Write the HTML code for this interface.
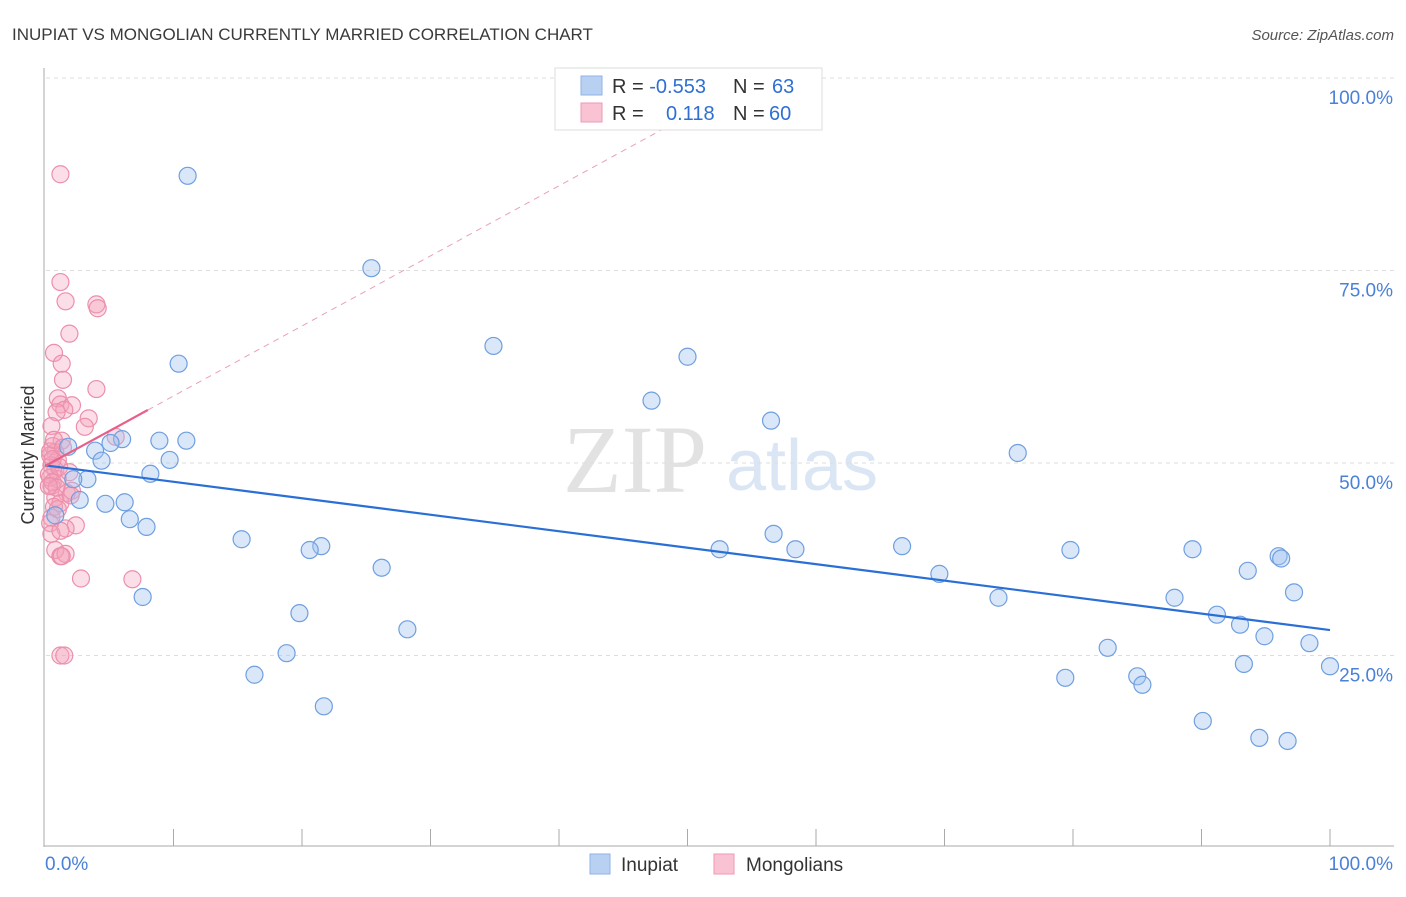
<!DOCTYPE html>
<html><head><meta charset="utf-8"><style>
body{margin:0;background:#fff;font-family:"Liberation Sans",sans-serif}
#wrap{position:relative;width:1406px;height:892px}
</style></head><body>
<div id="wrap">
<svg id="svg" width="1406" height="892" xmlns="http://www.w3.org/2000/svg">
<text x="12" y="40" font-size="17" fill="#3a3a3a">INUPIAT VS MONGOLIAN CURRENTLY MARRIED CORRELATION CHART</text>
<text x="1394" y="40" font-size="15" fill="#555" font-style="italic" text-anchor="end">Source: ZipAtlas.com</text>
<text x="635" y="492" font-size="96" fill="#e2e2e2" font-family="Liberation Serif" text-anchor="middle">ZIP</text>
<text x="802" y="490" font-size="72" fill="#dbe6f5" text-anchor="middle">atlas</text>
<text transform="translate(34,455) rotate(-90)" font-size="18" fill="#333" text-anchor="middle">Currently Married</text>
<g id="grid"></g><g id="marks"></g><g id="lines"></g>
<g>
<rect x="555" y="68" width="267" height="62" fill="#fff" stroke="#ddd"/>
<rect x="581" y="76" width="21" height="19" fill="#b8d1f3" stroke="#8fb2e6"/>
<rect x="581" y="103" width="21" height="19" fill="#f9c3d3" stroke="#ee9ab4"/>
<text x="612" y="93" font-size="20" fill="#333">R = <tspan fill="#2f6fd3">-0.553</tspan><tspan x="733">N = </tspan><tspan x="772" fill="#2f6fd3">63</tspan></text>
<text x="612" y="120" font-size="20" fill="#333">R = <tspan x="666" fill="#2f6fd3">0.118</tspan><tspan x="733">N = </tspan><tspan x="769" fill="#2f6fd3">60</tspan></text>
</g>
<g>
<rect x="590" y="854" width="20" height="20" fill="#b8d1f3" stroke="#8fb2e6"/>
<text x="621" y="871" font-size="19" fill="#333">Inupiat</text>
<rect x="714" y="854" width="20" height="20" fill="#f9c3d3" stroke="#ee9ab4"/>
<text x="746" y="871" font-size="19" fill="#333">Mongolians</text>
</g>
</svg>
</div>
<script>
const blueX=[11.1,25.4,34.9,50.0,10.4,47.2,56.5,6.0,8.9,11.0,5.1,1.8,3.9,75.7,9.7,4.4,8.2,3.3,2.2,2.7,6.2,4.7,0.8,6.6,7.9,15.3,56.7,21.5,20.6,52.5,58.4,66.7,79.8,89.3,96.0,96.2,26.2,93.6,69.6,97.2,7.6,74.2,87.9,19.8,91.2,28.2,93.0,94.9,98.4,82.7,18.8,93.3,100,16.3,79.4,85.0,85.4,21.7,90.1,94.5,96.7];
const blueY=[87.3,75.3,65.2,63.8,62.9,58.1,55.5,53.1,52.9,52.9,52.6,52.1,51.6,51.3,50.4,50.3,48.6,47.9,47.9,45.2,44.9,44.7,43.2,42.7,41.7,40.1,40.8,39.2,38.7,38.8,38.8,39.2,38.7,38.8,37.9,37.6,36.4,36.0,35.6,33.2,32.6,32.5,32.5,30.5,30.3,28.4,29.0,27.5,26.6,26.0,25.3,23.9,23.6,22.5,22.1,22.3,21.2,18.4,16.5,14.3,13.9];
const pinkX=[1.2,1.2,1.6,4.0,4.1,1.9,0.7,1.3,1.4,4.0,1.0,1.2,2.1,1.5,0.9,3.4,3.1,0.5,5.5,1.3,0.6,0.8,0.4,1.0,0.5,0.8,0.4,1.0,0.5,1.7,2.1,0.8,1.2,0.7,0.5,0.4,2.4,1.6,0.5,1.2,0.8,1.2,1.6,1.3,2.8,6.8,1.2,1.5,0.3,0.6,0.9,1.1,0.4,0.7,2.0,1.0,0.6,0.3,1.4,1.9];
const pinkY=[87.5,73.5,71.0,70.6,70.1,66.8,64.3,62.9,60.8,59.6,58.4,57.6,57.5,56.9,56.6,55.8,54.7,54.8,53.4,52.9,52.2,51.4,51.0,50.4,49.7,49.1,48.1,47.9,47.0,46.1,46.4,45.5,44.8,44.3,42.9,42.2,41.9,41.5,40.8,41.2,38.7,37.9,38.2,37.9,35.0,34.9,25.0,25.0,48.5,47.5,46.8,49.5,51.5,53.0,45.8,44.0,50.5,47.0,52.0,48.8];
const xTicks=["0.0%","100.0%"];
const yTickVals=[25,50,75,100];
const yTickLabels=["25.0%","50.0%","75.0%","100.0%"];
const blueTrend=[49.7,28.3];
const pinkTrend=[49.6,0.91];
const X=v=>45+v*12.85, Y=v=>848-v*7.7;
const NS="http://www.w3.org/2000/svg";
function mk(tag,attrs,parent){const e=document.createElementNS(NS,tag);for(const k in attrs)e.setAttribute(k,attrs[k]);parent.appendChild(e);return e;}
const grid=document.getElementById('grid'),marks=document.getElementById('marks'),lines=document.getElementById('lines');
let ax=mk('line',{x1:44,y1:68,x2:44,y2:847,stroke:'#aaa'},grid);


let bx=mk('line',{x1:44,y1:846,x2:1394,y2:846,stroke:'#aaa'},grid);


for(let i=1;i<=10;i++){let t=mk('line',{x1:X(i*10),y1:829,x2:X(i*10),y2:846,stroke:'#aaa'},grid);

}
yTickVals.forEach((v,i)=>{let g=mk('line',{x1:46,y1:Y(v),x2:1394,y2:Y(v),stroke:'#ddd','stroke-dasharray':'4,4'},grid);


let t=mk('text',{x:1393,y:Y(v)+26,'font-size':19,fill:'#4a80d8','text-anchor':'end'},grid);t.textContent=yTickLabels[i];

});
let t0=mk('text',{x:45,y:870,'font-size':19,fill:'#4a80d8'},grid);t0.textContent=xTicks[0];


let t1=mk('text',{x:1393,y:870,'font-size':19,fill:'#4a80d8','text-anchor':'end'},grid);t1.textContent=xTicks[1];


pinkX.forEach((x,i)=>{let c=mk('circle',{cx:X(x),cy:Y(pinkY[i]),r:8.5,fill:'rgba(244,160,186,0.35)',stroke:'#ec8fab','stroke-width':1.2},marks);

});
blueX.forEach((x,i)=>{let c=mk('circle',{cx:X(x),cy:Y(blueY[i]),r:8.5,fill:'rgba(160,195,240,0.4)',stroke:'#6f9fe0','stroke-width':1.2},marks);

});
let bl=mk('line',{x1:X(0),y1:Y(blueTrend[0]),x2:X(100),y2:Y(blueTrend[1]),stroke:'#2a6fd6','stroke-width':2.2},lines);


let pd=mk('line',{x1:X(8),y1:Y(pinkTrend[0]+pinkTrend[1]*8),x2:X(48),y2:Y(pinkTrend[0]+pinkTrend[1]*48),stroke:'#eaa0b8','stroke-width':1,'stroke-dasharray':'6,5'},lines);


let pl=mk('line',{x1:X(0),y1:Y(pinkTrend[0]),x2:X(8),y2:Y(pinkTrend[0]+pinkTrend[1]*8),stroke:'#e8608a','stroke-width':2.2},lines);


</script>
</body></html>
